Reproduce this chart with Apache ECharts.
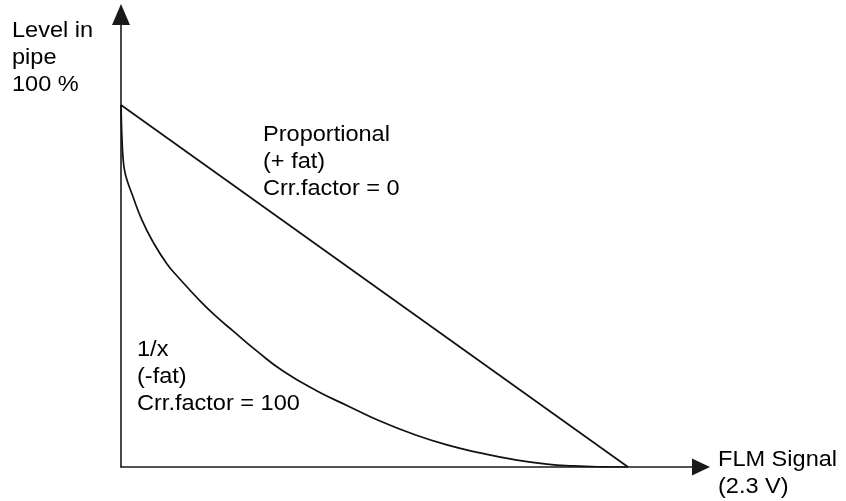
<!DOCTYPE html>
<html>
<head>
<meta charset="utf-8">
<script src="https://cdn.jsdelivr.net/npm/echarts@6/dist/echarts.min.js"></script>
<style>
html,body{margin:0;padding:0;background:#fff;}
#c{width:846px;height:501px;}
</style>
</head>
<body>
<div id="c"></div>
<script>
// Data (x: FLM signal in % of 2.3 V, y: level in pipe in %)
var proportionalX = [0, 100];
var proportionalY = [100, 0];
var inverseX = [0, 0.08, 0.20, 0.39, 0.69, 1.18, 2.17, 4.14, 6.31, 9.07, 11.24, 15.58, 18.93, 22.09, 26.82, 31.95, 38.66, 45.17, 51.08, 57.59, 64.30, 70.81, 77.32, 84.02, 89.15, 94.67, 100];
var inverseY = [100, 95.3, 90.6, 85.6, 82.0, 79.3, 75.4, 68.2, 62.2, 56.1, 52.5, 45.9, 41.4, 37.6, 32.0, 26.5, 21.0, 16.6, 12.7, 9.1, 6.1, 3.9, 2.1, 0.8, 0.3, 0.06, 0];
var yLabelLines = ['Level in', 'pipe', '100 %'];
var xLabelLines = ['FLM Signal', '(2.3 V)'];
var propLabelLines = ['Proportional', '(+ fat)', 'Crr.factor = 0'];
var invLabelLines = ['1/x', '(-fat)', 'Crr.factor = 100'];

function pairs(xs, ys){ return xs.map(function(x,i){ return [x, ys[i]]; }); }

var chart = echarts.init(document.getElementById('c'), null, {renderer:'canvas'});
var textStyleBase = {
  fill: '#000',
  fontSize: 22,
  fontFamily: '"Liberation Sans", Arial, Helvetica, sans-serif',
  lineHeight: 27,
  verticalAlign: 'top',
  align: 'left'
};
function label(lines, x, y){
  return {
    type: 'text', x: x, y: y, scaleX: 1.07, scaleY: 1,
    style: Object.assign({}, textStyleBase, {text: lines.join('\n')}),
    z: 10
  };
}
var axisLineStyle = {color: '#1a1a1a', width: 1.6};
chart.setOption({
  animation: false,
  backgroundColor: '#fff',
  grid: {left: 121, right: 145, top: 14.5, bottom: 34, containLabel: false},
  xAxis: {
    type: 'value', min: 0, max: 114.4,
    axisLine: {show: true, onZero: false, symbol: ['none', 'triangle'], symbolSize: [17, 18], lineStyle: axisLineStyle},
    axisTick: {show: false}, axisLabel: {show: false}, splitLine: {show: false}
  },
  yAxis: {
    type: 'value', min: 0, max: 125,
    axisLine: {show: true, onZero: false, symbol: ['none', 'triangle'], symbolSize: [18, 21], lineStyle: axisLineStyle},
    axisTick: {show: false}, axisLabel: {show: false}, splitLine: {show: false}
  },
  series: [
    {
      type: 'line', name: 'Proportional', data: pairs(proportionalX, proportionalY),
      showSymbol: false, symbol: 'none',
      lineStyle: {color: '#111', width: 1.7}
    },
    {
      type: 'line', name: '1/x', data: pairs(inverseX, inverseY),
      showSymbol: false, symbol: 'none', smooth: 0.5,
      lineStyle: {color: '#111', width: 1.7}
    }
  ],
  graphic: [
    label(yLabelLines, 12, 17.7),
    label(propLabelLines, 263, 121.7),
    label(invLabelLines, 137, 336.7),
    label(xLabelLines, 718, 446.7)
  ]
});
</script>
</body>
</html>
